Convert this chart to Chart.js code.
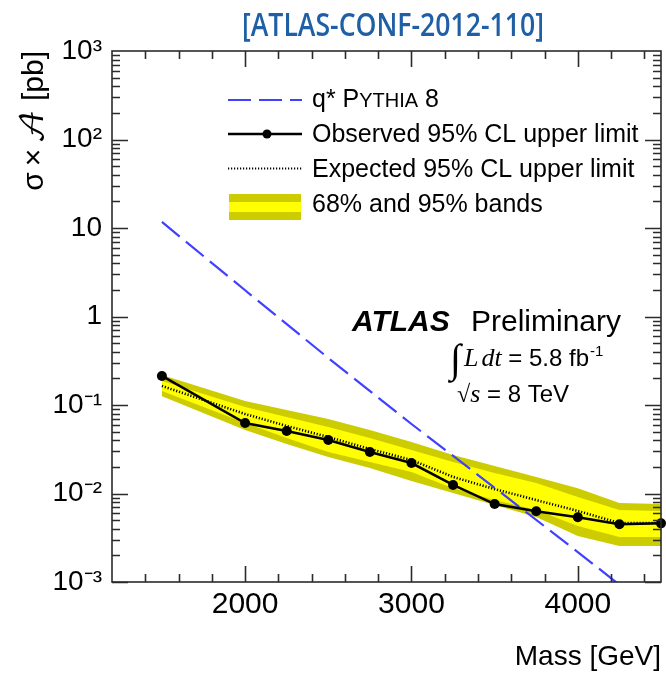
<!DOCTYPE html>
<html>
<head>
<meta charset="utf-8">
<script src="https://cdn.jsdelivr.net/npm/chart.js@4.4.1/dist/chart.umd.min.js"></script>
<style>
  html, body { margin: 0; padding: 0; background: #fff; }
  #wrap { width: 666px; height: 674px; }
</style>
</head>
<body>
<div id="wrap"><canvas id="c" width="666" height="674"></canvas></div>
<script>
// Resonance mass points [GeV]
const masses = [1500, 2000, 2250, 2500, 2750, 3000, 3250, 3500, 3750, 4000, 4250, 4500];
// Observed 95% CL upper limit on sigma x A [pb]
const observed = [0.213, 0.0626, 0.0508, 0.0403, 0.0294, 0.0221, 0.0125, 0.0076, 0.0063, 0.0054, 0.0045, 0.0046];
// Expected 95% CL upper limit [pb]
const expected = [0.164, 0.0791, 0.0579, 0.0435, 0.0318, 0.0239, 0.0154, 0.0112, 0.00844, 0.00634, 0.00464, 0.00464];
// 68% band edges
const band68Up   = [0.187, 0.0949, 0.0732, 0.0564, 0.0424, 0.0310, 0.0227, 0.0170, 0.0131, 0.00913, 0.00651, 0.00634];
const band68Down = [0.144, 0.0626, 0.0424, 0.0294, 0.0227, 0.0175, 0.0115, 0.00844, 0.00651, 0.00429, 0.00323, 0.00323];
// 95% band edges
const band95Up   = [0.218, 0.111, 0.0878, 0.0695, 0.0522, 0.0382, 0.0272, 0.0205, 0.0154, 0.0115, 0.00781, 0.00761];
const band95Down = [0.126, 0.0522, 0.0362, 0.0258, 0.0194, 0.0138, 0.0101, 0.00742, 0.00543, 0.00331, 0.00255, 0.00255];
// q* (Pythia 8) signal prediction
const qstarMasses = [1500, 2000, 2500, 3000, 3500, 4000, 4250];
const qstarXsec   = [11.7, 1.98, 0.340, 0.0610, 0.0116, 0.00218, 0.00093];

// Axis ticks
const xTickValues = [2000, 3000, 4000];
const yTickValues = [1e-3, 1e-2, 1e-1, 1, 10, 100, 1000];
const yTickLabels = ['10\u207B\u00B3', '10\u207B\u00B2', '10\u207B\u00B9', '1', '10', '10\u00B2', '10\u00B3'];

const SANS = '"Liberation Sans", Arial, Helvetica, sans-serif';
const SERIF = '"Liberation Serif", "Times New Roman", serif';
const C_THEORY = '#4040ff';
const C_BAND68 = '#ffff00';
const C_BAND95 = '#cccc00';

const xy = (xs, ys) => xs.map((x, i) => ({ x: x, y: ys[i] }));
const NONE = 'rgba(0,0,0,0)';

// draw a run of text pieces with different fonts
function drawRich(ctx, pieces, x, y, align) {
  let total = 0;
  for (const p of pieces) { ctx.font = p.font; p.w = ctx.measureText(p.text).width; total += p.w + (p.gap || 0); }
  let cx = align === 'right' ? x - total : (align === 'center' ? x - total / 2 : x);
  for (const p of pieces) {
    ctx.font = p.font;
    ctx.fillText(p.text, cx, y + (p.dy || 0));
    cx += p.w + (p.gap || 0);
  }
}

const decor = {
  id: 'decor',
  beforeDraw(chart) {
    const ctx = chart.ctx;
    ctx.save();
    ctx.fillStyle = '#fff';
    ctx.fillRect(0, 0, chart.width, chart.height);
    ctx.restore();
  },
  afterDraw(chart) {
    const ctx = chart.ctx;
    const a = chart.chartArea;
    const xs = chart.scales.x, ys = chart.scales.y;
    ctx.save();

    // frame with inward ticks on all sides
    ctx.strokeStyle = '#2b2b2b';
    ctx.lineWidth = 1.6;
    ctx.strokeRect(a.left, a.top, a.right - a.left, a.bottom - a.top);
    ctx.beginPath();
    for (let m = 1400; m <= 4400; m += 200) {
      const px = Math.round(xs.getPixelForValue(m)) + 0.5;
      const len = (m % 1000 === 0) ? 16 : 8;
      ctx.moveTo(px, a.bottom); ctx.lineTo(px, a.bottom - len);
      ctx.moveTo(px, a.top); ctx.lineTo(px, a.top + len);
    }
    for (let e = -3; e < 3; e++) {
      for (let k = 1; k <= 9; k++) {
        const v = k * Math.pow(10, e);
        const py = Math.round(ys.getPixelForValue(v)) + 0.5;
        const len = (k === 1) ? 16 : 8;
        ctx.moveTo(a.left, py); ctx.lineTo(a.left + len, py);
        ctx.moveTo(a.right, py); ctx.lineTo(a.right - len, py);
      }
    }
    ctx.stroke();

    // header
    ctx.fillStyle = '#1f5fa6';
    ctx.font = '600 32px "Open Sans", ' + SANS;
    ctx.textBaseline = 'alphabetic';
    ctx.textAlign = 'left';
    const head = '[ATLAS-CONF-2012-110]';
    const hw = ctx.measureText(head).width;
    ctx.save();
    ctx.translate(242, 36);
    ctx.scale(302 / hw, 1);
    ctx.fillText(head, 0, 0);
    ctx.restore();

    // y axis title
    ctx.fillStyle = '#000';
    ctx.save();
    ctx.translate(43, 51);
    ctx.rotate(-Math.PI / 2);
    drawRich(ctx, [
      { text: '\u03C3', font: '30px ' + SANS, gap: 6 },
      { text: '\u00D7', font: '30px ' + SANS, gap: 5 },
      { text: '\uD835\uDC9C', font: '32px "DejaVu Math TeX Gyre", "DejaVu Serif", ' + SERIF, gap: 0 },
      { text: ' [pb]', font: '30px ' + SANS }
    ], 0, 0, 'right');
    ctx.restore();

    // ATLAS label
    ctx.font = 'italic bold 30px ' + SANS;
    ctx.fillText('ATLAS', 352, 331);
    ctx.font = '30px ' + SANS;
    ctx.fillText('Preliminary', 471, 331);

    drawRich(ctx, [
      { text: '\u222B', font: '40px ' + SERIF, gap: 3, dy: 6 },
      { text: 'L', font: 'italic 26px ' + SERIF, gap: 3 },
      { text: 'dt', font: 'italic 26px ' + SERIF, gap: 0 },
      { text: ' = 5.8 fb', font: '24px ' + SANS, gap: 1 },
      { text: '-1', font: '15px ' + SANS, dy: -10 }
    ], 450, 366, 'left');

    drawRich(ctx, [
      { text: '\u221A', font: '24px ' + SERIF, gap: 0 },
      { text: 's', font: 'italic 26px ' + SERIF, gap: 0 },
      { text: ' = 8 TeV', font: '24px ' + SANS }
    ], 457, 402, 'left');

    // legend
    const L0 = 228, L1 = 302, TX = 312;
    ctx.lineCap = 'butt';
    // q*
    ctx.strokeStyle = C_THEORY; ctx.lineWidth = 2.2; ctx.setLineDash([23, 8]);
    ctx.beginPath(); ctx.moveTo(L0, 100); ctx.lineTo(L1, 100); ctx.stroke();
    ctx.setLineDash([]);
    ctx.fillStyle = '#000';
    drawRich(ctx, [
      { text: 'q* P', font: '25px ' + SANS },
      { text: 'YTHIA', font: '20px ' + SANS },
      { text: ' 8', font: '25px ' + SANS }
    ], TX, 107, 'left');
    // observed
    ctx.strokeStyle = '#000'; ctx.lineWidth = 2.5;
    ctx.beginPath(); ctx.moveTo(L0, 134); ctx.lineTo(L1, 134); ctx.stroke();
    ctx.beginPath(); ctx.arc(267, 134, 4.5, 0, Math.PI * 2); ctx.fill();
    ctx.font = '25px ' + SANS;
    ctx.fillText('Observed 95% CL upper limit', TX, 142);
    // expected
    ctx.lineWidth = 1.8; ctx.setLineDash([1.2, 1.8]);
    ctx.beginPath(); ctx.moveTo(L0, 168.5); ctx.lineTo(L1, 168.5); ctx.stroke();
    ctx.setLineDash([]);
    ctx.fillText('Expected 95% CL upper limit', TX, 177);
    // bands
    ctx.fillStyle = C_BAND95; ctx.fillRect(229, 194, 72, 26);
    ctx.fillStyle = C_BAND68; ctx.fillRect(229, 202, 72, 10);
    ctx.fillStyle = '#000';
    ctx.fillText('68% and 95% bands', TX, 212);

    ctx.restore();
  }
};

const chart = new Chart(document.getElementById('c'), {
  type: 'line',
  data: {
    datasets: [
      { label: 'Observed 95% CL upper limit', data: xy(masses, observed),
        borderColor: '#000', backgroundColor: '#000', borderWidth: 2.5,
        pointRadius: 5, pointBackgroundColor: '#000', pointBorderWidth: 0, fill: false, clip: false },
      { label: 'q* Pythia 8', data: xy(qstarMasses, qstarXsec),
        borderColor: C_THEORY, borderWidth: 2.2, borderDash: [23, 8], pointRadius: 0, fill: false, clip: 0 },
      { label: 'Expected 95% CL upper limit', data: xy(masses, expected),
        borderColor: '#000', borderWidth: 2.6, borderDash: [1.2, 1.8], pointRadius: 0, fill: false },
      { label: '68% up', data: xy(masses, band68Up),
        borderColor: NONE, borderWidth: 0, pointRadius: 0, backgroundColor: C_BAND68, fill: '+1' },
      { label: '68% down', data: xy(masses, band68Down),
        borderColor: NONE, borderWidth: 0, pointRadius: 0, fill: false },
      { label: '95% up', data: xy(masses, band95Up),
        borderColor: NONE, borderWidth: 0, pointRadius: 0, backgroundColor: C_BAND95, fill: '+1' },
      { label: '95% down', data: xy(masses, band95Down),
        borderColor: NONE, borderWidth: 0, pointRadius: 0, fill: false }
    ]
  },
  options: {
    responsive: false,
    animation: false,
    devicePixelRatio: 1,
    layout: { padding: { top: 51, right: 2, left: 0, bottom: 0 } },
    elements: { line: { tension: 0 } },
    plugins: { legend: { display: false }, tooltip: { enabled: false }, title: { display: false } },
    scales: {
      x: {
        type: 'linear', min: 1200, max: 4500,
        afterBuildTicks: s => { s.ticks = xTickValues.map(v => ({ value: v })); },
        afterFit: s => { s.height = 92; },
        grid: { display: false, drawTicks: false },
        border: { display: false },
        ticks: { font: { family: SANS, size: 30 }, color: '#000', padding: 5, maxRotation: 0, autoSkip: false,
                 callback: v => String(v) },
        title: { display: true, text: 'Mass [GeV]', align: 'end', color: '#000',
                 font: { family: SANS, size: 28 }, padding: { top: 0, bottom: 0 } }
      },
      y: {
        type: 'logarithmic', min: 1e-3, max: 1e3,
        afterBuildTicks: s => { s.ticks = yTickValues.map(v => ({ value: v })); },
        afterFit: s => { s.width = 112; },
        grid: { display: false, drawTicks: false },
        border: { display: false },
        ticks: { font: { family: SANS, size: 28 }, color: '#000', padding: 10, autoSkip: false,
                 callback: (v, i) => yTickLabels[i] }
      }
    }
  },
  plugins: [decor]
});
</script>
</body>
</html>
